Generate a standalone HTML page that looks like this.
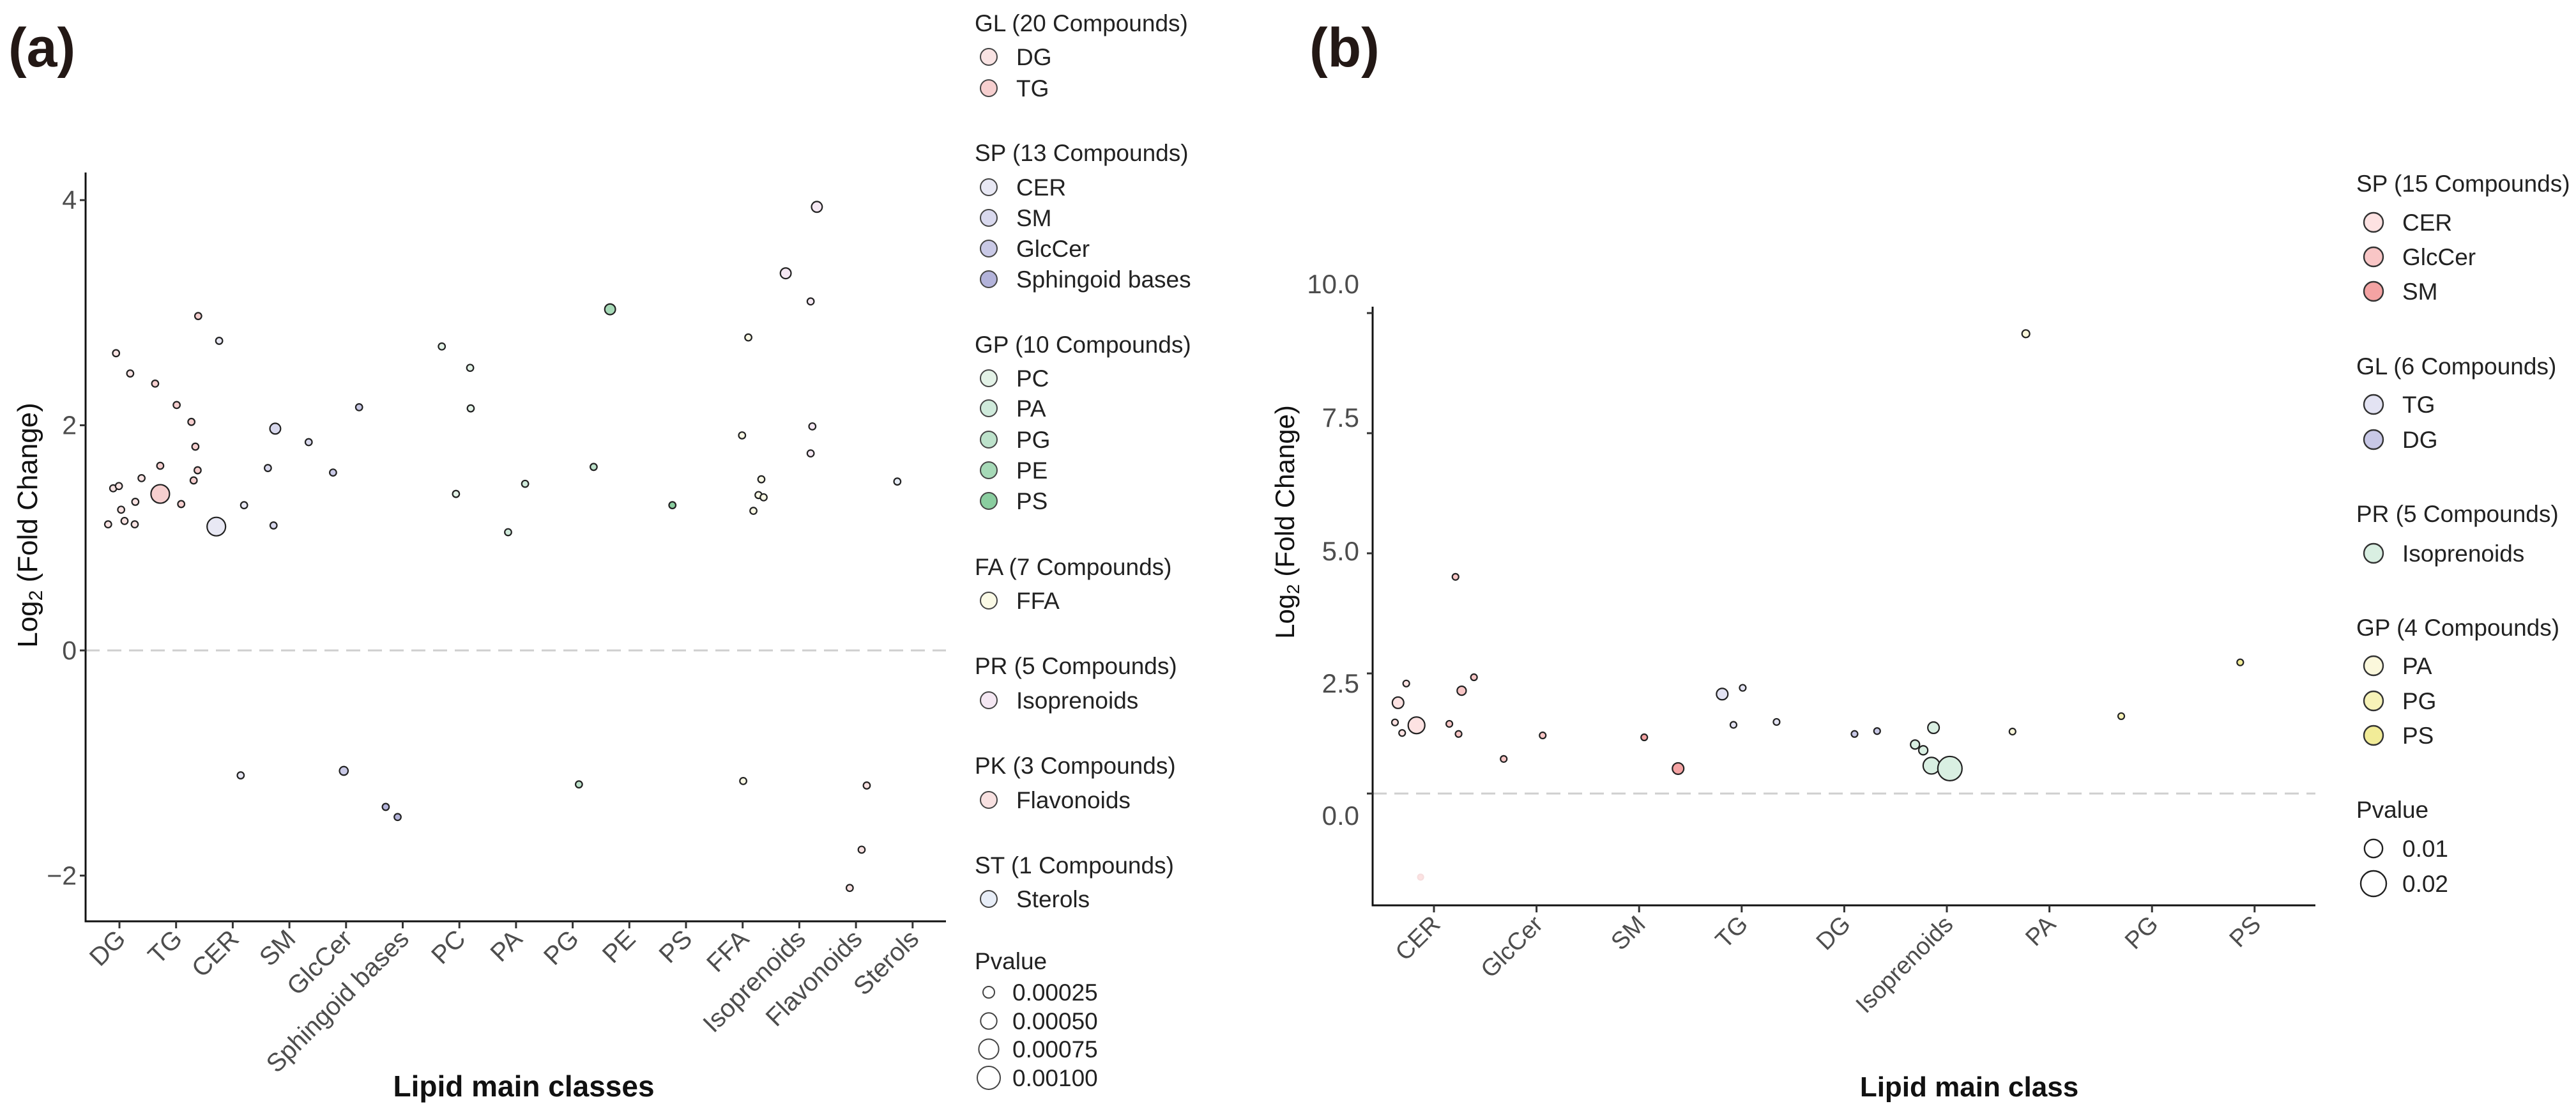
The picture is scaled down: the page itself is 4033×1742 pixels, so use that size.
<!DOCTYPE html>
<html><head><meta charset="utf-8"><style>
html,body{margin:0;padding:0;background:#fff;}
svg{display:block;font-family:"Liberation Sans",Arial,sans-serif;}
</style></head><body>
<svg id="fig" width="4033" height="1742" viewBox="0 0 4033 1742" xmlns="http://www.w3.org/2000/svg">
<g id="pa"></g>
<g id="pb"></g>
</svg>
<script>
// ===== Panel A data =====
const catsA = ["DG","TG","CER","SM","GlcCer","Sphingoid bases","PC","PA","PG","PE","PS","FFA","Isoprenoids","Flavonoids","Sterols"];
const ptCatA = [0,0,0,0,0,0,0,0,0,0, 1,1,1,1,1,1,1,1,1,1, 2,2,2,2, 3,3,3,3, 4,4,4, 5,5, 6,6,6,6, 7,7, 8,8, 9, 10, 11,11,11,11,11,11,11, 12,12,12,12,12, 13,13,13, 14];
const ptJitA = [-0.20,-0.11,-0.06,-0.01,0.03,0.09,0.19,0.27,0.28,0.39, -0.37,-0.28,-0.28,0.01,0.09,0.27,0.31,0.34,0.38,0.39, -0.29,-0.24,0.14,0.20, -0.38,-0.28,-0.25,0.34, -0.23,-0.04,0.23, -0.30,-0.09, -0.31,-0.06,0.19,0.20, -0.14,0.16, 0.11,0.37, -0.34, -0.24, -0.01,0.01,0.10,0.19,0.28,0.33,0.37, -0.24,0.20,0.20,0.23,0.31, -0.11,0.10,0.19, -0.27];
const ptValA = [1.12,1.44,2.64,1.46,1.25,1.15,2.46,1.12,1.32,1.53, 2.37,1.64,1.39,2.18,1.30,2.03,1.51,1.81,1.60,2.97, 1.10,2.75,-1.11,1.29, 1.62,1.11,1.97,1.85, 1.58,-1.07,2.16, -1.39,-1.48, 2.70,1.39,2.51,2.15, 1.05,1.48, -1.19,1.63, 3.03, 1.29, 1.91,-1.16,2.78,1.24,1.38,1.52,1.36, 3.35,3.10,1.75,1.99,3.94, -2.11,-1.77,-1.20, 1.50];
const ptPA = [0.00008,0.00008,0.00008,0.00008,0.00008,0.00008,0.00008,0.00008,0.00008,0.00008, 0.00008,0.00008,0.0006,0.00008,0.00008,0.00008,0.00008,0.00008,0.00008,0.00008, 0.0006,0.00008,0.00008,0.00008, 0.00008,0.00008,0.0002,0.00008, 0.00008,0.00013,0.00008, 0.00008,0.00008, 0.00008,0.00008,0.00008,0.00008, 0.00008,0.00008, 0.00008,0.00008, 0.0002, 0.00008, 0.00008,0.00008,0.00008,0.00008,0.00008,0.00008,0.00008, 0.0002,0.00008,0.00008,0.00008,0.0002, 0.00008,0.00008,0.00008, 0.00008];
const yTicksA = [4,2,0,-2];
const colA = ["#f9e3e3","#f6cfcf","#e8e8f4","#d9d9ee","#c9c9e6","#b3b3da","#e3f2e7","#cfeadb","#bde2cb","#a6d9b7","#8acd9f","#fbfae6","#f5e8f3","#f8e1e1","#e8eef8"];
const legA = [["GL (20 Compounds)",[0,1]],["SP (13 Compounds)",[2,3,4,5]],["GP (10 Compounds)",[6,7,8,9,10]],["FA (7 Compounds)",[11]],["PR (5 Compounds)",[12]],["PK (3 Compounds)",[13]],["ST (1 Compounds)",[14]]];
const legAY = [[36,[89,138]],[239,[293,341,389,437]],[539,[592,639,688,736,784]],[887,[940]],[1042,[1096]],[1198,[1252]],[1354,[1407]]];
const pLegA = ["0.00025","0.00050","0.00075","0.00100"];

// ===== Panel B data =====
const catsB = ["CER","GlcCer","SM","TG","DG","Isoprenoids","PA","PG","PS"];
const ptCatB = [0,0,0,0,0,0,0,0,0,0,0, 1,1, 2,2, 3,3,3,3, 4,4, 5,5,5,5,5, 6,6, 7, 8];
const ptJitB = [-0.38,-0.35,-0.31,-0.27,-0.17,-0.13,0.15,0.21,0.24,0.27,0.39, -0.32,0.06, 0.05,0.38, -0.19,-0.08,0.01,0.34, 0.10,0.32, -0.31,-0.23,-0.15,-0.13,0.03, -0.36,-0.23, -0.30, -0.14];
const ptValB = [1.48,1.89,1.26,2.29,1.42,-1.74,1.45,4.51,1.24,2.14,2.42, 0.72,1.21, 1.17,0.52, 2.07,1.43,2.20,1.49, 1.24,1.30, 1.02,0.90,0.58,1.37,0.52, 1.29,9.57, 1.61, 2.73];
const ptPB = [0.00125,0.004,0.00125,0.00125,0.0085,0.0006,0.00125,0.00125,0.00125,0.0025,0.00125, 0.00125,0.00125, 0.00125,0.004, 0.004,0.00125,0.00125,0.00125, 0.00125,0.00125, 0.0025,0.0025,0.0085,0.004,0.018, 0.00125,0.0018, 0.00125, 0.00125];
const ptColB = [0,0,0,0,0,0,1,1,1,1,1, 1,1, 2,2, 3,3,3,3, 4,4, 5,5,5,5,5, 6,6, 7, 8];
const yTicksB = [10.0,7.5,5.0,2.5,0.0];
const colB = ["#fde2e2","#f9c6c6","#f4a3a3","#e3e3f3","#c8c8e6","#d9efe2","#fbf8dc","#f7f3b8","#f2ec98"];
const legB = [["SP (15 Compounds)",[0,1,2],["CER","GlcCer","SM"]],["GL (6 Compounds)",[3,4],["TG","DG"]],["PR (5 Compounds)",[5],["Isoprenoids"]],["GP (4 Compounds)",[6,7,8],["PA","PG","PS"]]];
const legBY = [[287,[348,402,456]],[573,[633,688]],[804,[866]],[982,[1042,1097,1151]]];
const pLegB = ["0.01","0.02"];

const NS="http://www.w3.org/2000/svg";
function mk(par,tag,at,txt){const e=document.createElementNS(NS,tag);for(const k in at)e.setAttribute(k,at[k]);if(txt!==undefined)e.textContent=txt;par.appendChild(e);return e;}

// ---------- Panel A ----------
const A=document.getElementById('pa');
const axA={x0:134,x1:1481,yTop:270,yBot:1442,cx0:187,step:88.7,y0:1018,unit:176.2};
const xA=c=>axA.cx0+c*axA.step, yA=v=>axA.y0-v*axA.unit, rA=p=>14.5*Math.sqrt(p/0.0006);
let t=mk(A,'text',{x:13,y:104,'font-size':86,'font-weight':'bold',fill:'#231815'},'(a)');


let l=mk(A,'line',{x1:axA.x0,x2:axA.x1,y1:yA(0),y2:yA(0),stroke:'#cfcfcf','stroke-width':3,'stroke-dasharray':'22 12'});


l=mk(A,'line',{x1:axA.x0,x2:axA.x0,y1:axA.yTop,y2:axA.yBot+1.5,stroke:'#111','stroke-width':3});


l=mk(A,'line',{x1:axA.x0,x2:axA.x1,y1:axA.yBot,y2:axA.yBot,stroke:'#111','stroke-width':3});


yTicksA.forEach(v=>{
 const y=yA(v);
 l=mk(A,'line',{x1:axA.x0-9,x2:axA.x0,y1:y,y2:y,stroke:'#333','stroke-width':3});
 
 
 t=mk(A,'text',{x:120,y:y+14,'font-size':41,fill:'#4d4d4d','text-anchor':'end'},v<0?'\u2212'+Math.abs(v):String(v));
 
 
});
catsA.forEach((c,i)=>{
 const x=xA(i);
 l=mk(A,'line',{x1:x,x2:x,y1:axA.yBot,y2:axA.yBot+11,stroke:'#333','stroke-width':3});
 
 
 t=mk(A,'text',{x:0,y:0,'font-size':40,fill:'#4d4d4d','text-anchor':'end',transform:`translate(${x+12},${axA.yBot+30}) rotate(-45)`},c);
 
 
});
t=mk(A,'text',{x:0,y:0,'font-size':44,fill:'#111','text-anchor':'middle',transform:'translate(58,822) rotate(-90)'});


t.innerHTML='Log<tspan font-size="30" dy="8">2</tspan><tspan dy="-8"> (Fold Change)</tspan>';
t=mk(A,'text',{x:820,y:1716,'font-size':46,'font-weight':'bold',fill:'#111','text-anchor':'middle'},'Lipid main classes');


ptValA.forEach((v,i)=>{
 const c=ptCatA[i];
 const p=mk(A,'circle',{cx:xA(c+ptJitA[i]),cy:yA(v),r:Math.max(4.5,rA(ptPA[i])),fill:colA[c],stroke:'#222','stroke-width':2.2});
 
 
});
// legend A
legA.forEach((g,gi)=>{
 t=mk(A,'text',{x:1526,y:legAY[gi][0]+13,'font-size':37,fill:'#222'},g[0]);
 
 
 g[1].forEach((ci,k)=>{
  const y=legAY[gi][1][k];
  const c=mk(A,'circle',{cx:1548,cy:y,r:13,fill:colA[ci],stroke:'#444','stroke-width':2});
  
  
  t=mk(A,'text',{x:1591,y:y+13,'font-size':37,fill:'#222'},catsA[ci]);
  
  
 });
});
t=mk(A,'text',{x:1526,y:1517,'font-size':37,fill:'#222'},'Pvalue');


pLegA.forEach((s,k)=>{
 const y=[1553,1598,1642,1687][k];
 const c=mk(A,'circle',{cx:1548,cy:y,r:18*Math.sqrt(parseFloat(s)/0.001),fill:'none',stroke:'#444','stroke-width':2});
 
 
 t=mk(A,'text',{x:1585,y:y+13,'font-size':37,fill:'#222'},s);
 
 
});

// ---------- Panel B ----------
const B=document.getElementById('pb');
const axB={x0:2149,x1:3625,yTop:480,yBot:1417,cx0:2245,step:160.6,y0:1242,unit:75.2};
const xB=c=>axB.cx0+c*axB.step, yB=v=>axB.y0-v*axB.unit, rB=p=>20*Math.sqrt(p/0.02);
const yLabB=[444,653,862,1069,1276];
t=mk(B,'text',{x:2050,y:104,'font-size':86,'font-weight':'bold',fill:'#231815'},'(b)');


l=mk(B,'line',{x1:axB.x0,x2:axB.x1,y1:yB(0),y2:yB(0),stroke:'#cfcfcf','stroke-width':3,'stroke-dasharray':'22 12'});


l=mk(B,'line',{x1:axB.x0,x2:axB.x0,y1:axB.yTop,y2:axB.yBot+1.5,stroke:'#111','stroke-width':3});


l=mk(B,'line',{x1:axB.x0,x2:axB.x1,y1:axB.yBot,y2:axB.yBot,stroke:'#111','stroke-width':3});


yTicksB.forEach((v,k)=>{
 const y=yB(v);
 l=mk(B,'line',{x1:axB.x0-9,x2:axB.x0,y1:y,y2:y,stroke:'#333','stroke-width':3});
 
 
 t=mk(B,'text',{x:2128,y:yLabB[k]+15,'font-size':42,fill:'#4d4d4d','text-anchor':'end'},v.toFixed(1));
 
 
});
catsB.forEach((c,i)=>{
 const x=xB(i);
 l=mk(B,'line',{x1:x,x2:x,y1:axB.yBot,y2:axB.yBot+11,stroke:'#333','stroke-width':3});
 
 
 t=mk(B,'text',{x:0,y:0,'font-size':38,fill:'#4d4d4d','text-anchor':'end',transform:`translate(${x+12},${axB.yBot+32}) rotate(-45)`},c);
 
 
});
t=mk(B,'text',{x:0,y:0,'font-size':42,fill:'#111','text-anchor':'middle',transform:'translate(2026,817) rotate(-90)'});


t.innerHTML='Log<tspan font-size="28" dy="8">2</tspan><tspan dy="-8"> (Fold Change)</tspan>';
t=mk(B,'text',{x:3083,y:1716,'font-size':44,'font-weight':'bold',fill:'#111','text-anchor':'middle'},'Lipid main class');


ptValB.forEach((v,i)=>{
 const c=ptCatB[i];
 const faint=ptValB[i]<0;
 const p=mk(B,'circle',{cx:xB(c+ptJitB[i]),cy:yB(v),r:Math.max(4.5,rB(ptPB[i])),fill:colB[ptColB[i]],stroke:faint?'#f6dede':'#222','stroke-width':2.2});
 
 
});
legB.forEach((g,gi)=>{
 t=mk(B,'text',{x:3689,y:legBY[gi][0]+13,'font-size':37,fill:'#222'},g[0]);
 
 
 g[1].forEach((ci,k)=>{
  const y=legBY[gi][1][k];
  const c=mk(B,'circle',{cx:3716,cy:y,r:15,fill:colB[ci],stroke:'#333','stroke-width':2.4});
  
  
  t=mk(B,'text',{x:3761,y:y+13,'font-size':37,fill:'#222'},g[2][k]);
  
  
 });
});
t=mk(B,'text',{x:3689,y:1280,'font-size':37,fill:'#222'},'Pvalue');


pLegB.forEach((s,k)=>{
 const y=[1328,1383][k];
 const c=mk(B,'circle',{cx:3716,cy:y,r:rB(parseFloat(s)),fill:'none',stroke:'#222','stroke-width':2.4});
 
 
 t=mk(B,'text',{x:3761,y:y+13,'font-size':37,fill:'#222'},s);
 
 
});
</script>
</body></html>
